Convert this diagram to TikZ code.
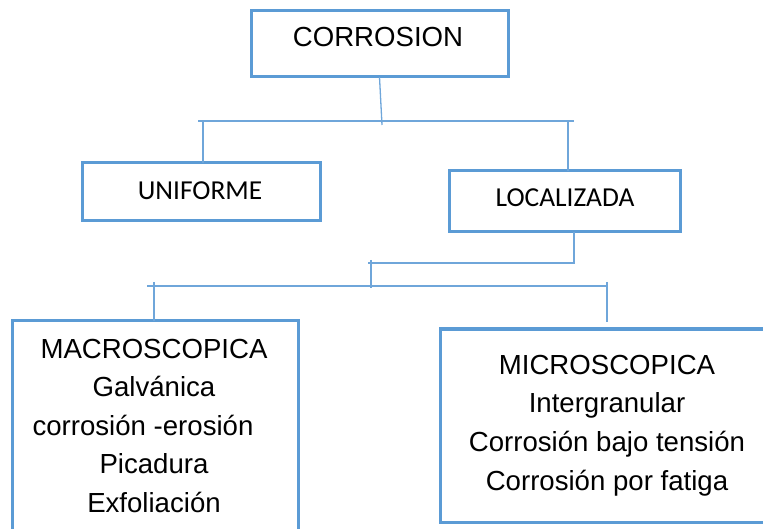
\documentclass[tikz,border=0pt]{standalone}
\usepackage{fontspec}
\setmainfont{Liberation Sans}
\newfontfamily\calib{Carlito}
\definecolor{boxblue}{HTML}{5B9BD5}
\definecolor{lineblue}{HTML}{6FA6DA}
\begin{document}
\begin{tikzpicture}[x=1pt,y=-1pt,
  boxstyle/.style={draw=boxblue, line width=3pt, fill=white, rectangle, inner sep=0pt, outer sep=0pt},
  conn/.style={draw=lineblue, line width=1.3pt},
  txt/.style={anchor=base, inner sep=0pt, font=\fontsize{27.6}{32}\selectfont, text=black},
  ctxt/.style={anchor=base, inner sep=0pt, font=\calib\fontsize{27.4}{32}\selectfont, text=black}]
\useasboundingbox (0,0) rectangle (763,529);
\clip (0,0) rectangle (763,529);
% boxes
\node[boxstyle, minimum width=257pt, minimum height=66pt] (corr) at (379.5,44) {};
\node[boxstyle, minimum width=238pt, minimum height=58pt] (unif) at (201,192) {};
\node[boxstyle, minimum width=231pt, minimum height=61pt] (loc) at (564.5,201.5) {};
\node[boxstyle, minimum width=286pt, minimum height=224pt] (macro) at (155,433) {};
\node[boxstyle, minimum width=334pt, minimum height=193pt] (micro) at (607,425.5) {};
% texts
\node[txt] (corrt) at (378,47) {CORROSION};
\node[ctxt] (unift) at (200,200) {UNIFORME};
\node[ctxt] (loct) at (565,207) {LOCALIZADA};
\node[txt] (ma1) at (154,358) {MACROSCOPICA};
\node[txt] (ma2) at (154,396.5) {Galvánica};
\node[txt] (ma3) at (143,435) {corrosión -erosión};
\node[txt] (ma4) at (154,473.5) {Picadura};
\node[txt] (ma5) at (154,512) {Exfoliación};
\node[txt] (mi1) at (607,374) {MICROSCOPICA};
\node[txt] (mi2) at (607,412.7) {Intergranular};
\node[txt] (mi3) at (607,451.4) {Corrosión bajo tensión};
\node[txt] (mi4) at (607,490) {Corrosión por fatiga};
% connector points
\coordinate (c1) at (382,125);
\coordinate (b1L) at (198,121);
\coordinate (b1R) at (574,121);
\coordinate (d1) at (203,121);
\coordinate (d2) at (568,121);
\coordinate (e1) at (574,263);
\coordinate (e2) at (368,263);
\coordinate (f1) at (371,260);
\coordinate (f2) at (371,288);
\coordinate (g1) at (147,286);
\coordinate (g2) at (608,286);
\coordinate (h1) at (154,282);
\coordinate (h2) at (607,282);
\coordinate (h3) at (607,322);
% connectors
\draw[conn] (corr.south) -- (c1);
\draw[conn] (b1L) -- (b1R);
\draw[conn] (d1) -- (d1 |- unif.north);
\draw[conn] (d2) -- (d2 |- loc.north);
\draw[conn] (e1 |- loc.south) -- (e1) -- (e2);
\draw[conn] (f1) -- (f2);
\draw[conn] (g1) -- (g2);
\draw[conn] (h1) -- (h1 |- macro.north);
\draw[conn] (h2) -- (h3);
\end{tikzpicture}
\end{document}
